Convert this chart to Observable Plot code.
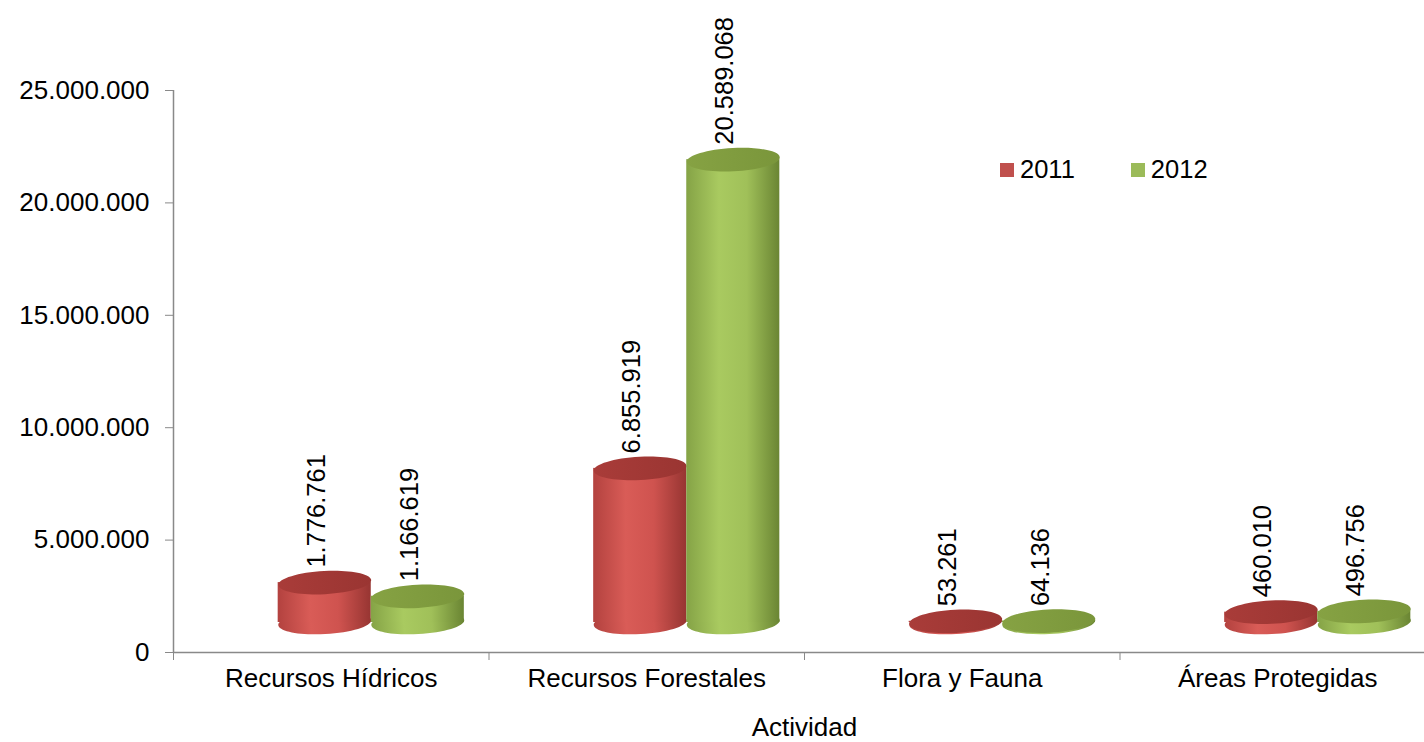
<!DOCTYPE html>
<html><head><meta charset="utf-8">
<script src="https://cdn.jsdelivr.net/npm/d3@7"></script>
<script src="https://cdn.jsdelivr.net/npm/@observablehq/plot@0.6"></script>
<style>
body{margin:0;background:#fff;font-family:"Liberation Sans",Arial,sans-serif}
#wrap{position:relative;width:1424px;height:742px;overflow:hidden}
#legend{position:absolute;left:1000px;top:155px;font-size:25.5px;color:#000;display:flex}
#legend .it{display:flex;align-items:center;margin-right:56px}
#legend .sw{width:14px;height:14px;margin-right:6px}
</style>
</head><body><div id="wrap"><div id="chart"></div><div id="legend"></div></div>
<script>
const categories = ["Recursos Hídricos","Recursos Forestales","Flora y Fauna","Áreas Protegidas"];
const years = ["2011","2012"];
const values2011 = [1776761, 6855919, 53261, 460010];
const values2012 = [1166619, 20589068, 64136, 496756];
const yTicks = [0, 5000000, 10000000, 15000000, 20000000, 25000000];
const xTitle = "Actividad";
const legendColors = ["#c0504d", "#9bbb59"];

const fmt = v => d3.format(",")(v).replace(/,/g, ".");
const series = [values2011, values2012];
const rows = years.map((yr, s) => categories.map((c, i) => ({cat: c, i, year: yr, s, value: series[s][i]})));

const W = 1424, H = 742;
const x0 = 173, x1 = 1435;
const bandPx = (x1 - x0) / categories.length;
const bw = 0.295;            // bar width in band units
const DX = 40, DY = -30;     // 3D offset of the cylinders
const rPx = bw * bandPx / 2;
const FONT = "'Liberation Sans', Arial, sans-serif";

const ellipse = {
  draw(ctx, size) {
    const rx = Math.sqrt(size / Math.PI), ry = rx * 0.25, k = 0.5523;
    ctx.moveTo(rx, 0);
    ctx.bezierCurveTo(rx, ry * k, rx * k, ry, 0, ry);
    ctx.bezierCurveTo(-rx * k, ry, -rx, ry * k, -rx, 0);
    ctx.bezierCurveTo(-rx, -ry * k, -rx * k, -ry, 0, -ry);
    ctx.bezierCurveTo(rx * k, -ry, rx, -ry * k, rx, 0);
    ctx.closePath();
  }
};

const bodyFill = ["url(#bodyR)", "url(#bodyG)"];
const topFill = ["url(#topR)", "url(#topG)"];

function cylinder(data, s) {
  const xa = d => d.i + 0.5 + (s === 0 ? -bw : 0);
  const xb = d => d.i + 0.5 + (s === 0 ? 0 : bw);
  const xc = d => d.i + 0.5 + (s === 0 ? -bw / 2 : bw / 2);
  return [
    Plot.dot(data, {x: xc, y: () => 0, r: rPx, symbol: ellipse, rotate: -3, fill: bodyFill[s], stroke: "none", dx: DX, dy: DY}),
    Plot.rectY(data, {x1: xa, x2: xb, y1: () => 0, y2: "value", fill: bodyFill[s], dx: DX, dy: DY}),
    Plot.dot(data, {x: xc, y: "value", r: rPx, symbol: ellipse, rotate: -3, fill: topFill[s], stroke: "none", dx: DX, dy: DY}),
    Plot.text(data, {x: xc, y: "value", text: d => fmt(d.value), rotate: -90, textAnchor: "start", fontSize: 25.5, fontFamily: FONT, fill: "#000", dx: DX - 8, dy: DY - 15})
  ];
}

const plot = Plot.plot({
  width: W, height: H,
  marginTop: 90, marginBottom: 90, marginLeft: x0, marginRight: 0,
  style: {fontFamily: FONT, background: "#fff", overflow: "visible"},
  x: {domain: [0, categories.length], range: [x0, x1]},
  y: {domain: [0, 25000000], range: [652, 90]},
  marks: [
    Plot.ruleX([0], {y1: 0, y2: 25000000, stroke: "#898989", strokeWidth: 1.5}),
    Plot.ruleY([0], {stroke: "#898989", strokeWidth: 1.5}),
    Plot.axisY({ticks: yTicks, tickFormat: fmt, tickSize: 8, tickPadding: 16, fontSize: 26, stroke: "#898989", fill: "#000", label: null}),
    Plot.axisX({ticks: d3.range(categories.length + 1), tickFormat: () => "", tickSize: 8, stroke: "#898989", label: null}),
    Plot.axisX({ticks: categories.map((c, i) => i + 0.5), tickFormat: d => categories[Math.floor(d)], tickSize: 0, tickPadding: 16, fontSize: 26, fill: "#000", label: null}),
    Plot.text([xTitle], {x: categories.length / 2, y: () => 0, text: d => d, dy: 75, fontSize: 26, fill: "#000"}),
    ...cylinder(rows[0], 0),
    ...cylinder(rows[1], 1)
  ]
});

d3.select(plot).insert("defs", ":first-child").html(`
<linearGradient id="bodyR" x1="0" x2="1" y1="0" y2="0">
  <stop offset="0" stop-color="#b3423f"/><stop offset="0.35" stop-color="#d95c57"/>
  <stop offset="0.65" stop-color="#cf534f"/><stop offset="1" stop-color="#973532"/>
</linearGradient>
<linearGradient id="bodyG" x1="0" x2="1" y1="0" y2="0">
  <stop offset="0" stop-color="#85a346"/><stop offset="0.35" stop-color="#a9ca60"/>
  <stop offset="0.65" stop-color="#a0c059"/><stop offset="1" stop-color="#6a8533"/>
</linearGradient>
<linearGradient id="topR" x1="0" x2="1" y1="0" y2="0">
  <stop offset="0" stop-color="#a93c39"/><stop offset="1" stop-color="#9a3532"/>
</linearGradient>
<linearGradient id="topG" x1="0" x2="1" y1="0" y2="0">
  <stop offset="0" stop-color="#86a243"/><stop offset="1" stop-color="#7a963b"/>
</linearGradient>`);

document.getElementById("chart").appendChild(plot);

const lg = d3.select("#legend");
years.forEach((yr, s) => {
  const it = lg.append("div").attr("class", "it");
  it.append("div").attr("class", "sw").style("background", legendColors[s]);
  it.append("span").text(yr);
});
</script>
</body></html>
